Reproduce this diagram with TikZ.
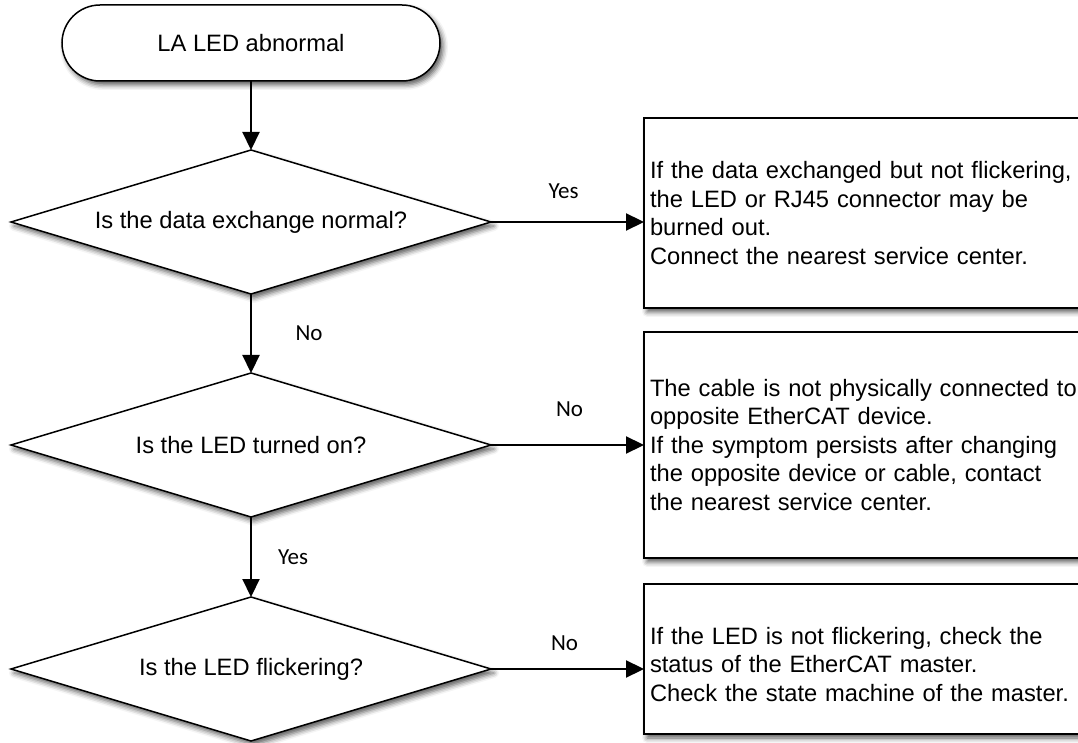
\documentclass[tikz,border=0pt]{standalone}
\usepackage{fontspec}
\setmainfont{Liberation Sans}
\newfontfamily\ansfont{Carlito}
\usetikzlibrary{arrows.meta,positioning,shapes.geometric,shadows.blur}

\newcommand\chartfont{\fontsize{23.7pt}{28.5pt}\selectfont}

\begin{document}
\begin{tikzpicture}[
  x=1pt, y=1pt,
  base/.style={draw, line width=1.5pt, fill=white, outer sep=0pt,
    blur shadow={shadow xshift=3pt, shadow yshift=-4pt, shadow blur radius=5pt, shadow opacity=65}},
  term/.style={base, rounded corners=38pt, minimum width=378pt, minimum height=76pt, font=\chartfont},
  dec/.style={base, diamond, shape aspect=3.33, inner sep=0pt, minimum width=480pt, minimum height=144pt, font=\chartfont},
  note/.style={base, rectangle, align=left, text width=438pt, inner xsep=6pt, font=\chartfont},
  arr/.style={-{Triangle[length=18pt,width=17pt]}, line width=2.2pt},
  ans/.style={font=\ansfont\fontsize{23pt}{26pt}\selectfont}
]
\path[use as bounding box, clip] (0,0) rectangle (1078,742);

\node[term] (start) at (251,699) {LA LED abnormal};

\node[dec, below=69pt of start] (xchg) {Is the data exchange normal?};
\node[dec, below=79pt of xchg] (ledon) {Is the LED turned on?};
\node[dec, below=80pt of ledon] (flick) {Is the LED flickering?};

\node[note, minimum height=190pt, right=153pt of xchg, yshift=9pt] (burnt)
  {If the data exchanged but not flickering,\\the LED or RJ45 connector may be\\burned out.\\Connect the nearest service center.};
\node[note, minimum height=226pt, right=153pt of ledon] (cable)
  {The cable is not physically connected to\\opposite EtherCAT device.\\If the symptom persists after changing\\the opposite device or cable, contact\\the nearest service center.};
\node[note, minimum height=150pt, right=153pt of flick, yshift=10pt, text depth=47pt] (master)
  {If the LED is not flickering, check the\\status of the EtherCAT master.\\Check the state machine of the master.};

% main column
\draw[arr] (start) -- (xchg);
\draw[arr] (xchg) -- node[ans, xshift=58pt] {No} (ledon);
\draw[arr] (ledon) -- node[ans, xshift=42pt] {Yes} (flick);

% branches to the right
\draw[arr] (xchg.east) -- node[ans, xshift=-4pt, yshift=31pt] {Yes} (xchg.east -| burnt.west);
\draw[arr] (ledon.east) -- node[ans, xshift=2pt, yshift=36pt] {No} (ledon.east -| cable.west);
\draw[arr] (flick.east) -- node[ans, xshift=-3pt, yshift=26pt] {No} (flick.east -| master.west);
\end{tikzpicture}
\end{document}
